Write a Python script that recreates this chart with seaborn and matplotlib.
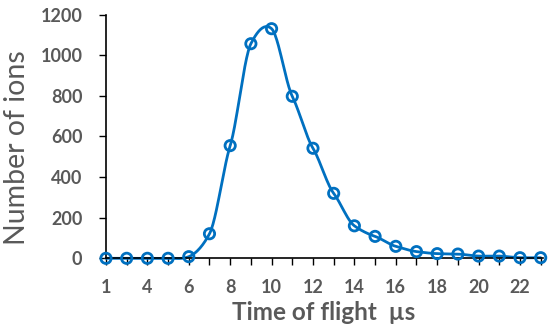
import numpy as np
import pandas as pd
import matplotlib
matplotlib.use("Agg")
import matplotlib.pyplot as plt
import seaborn as sns

# time of flight categories (µs) and ion counts
time_us = [1, 3, 4, 5, 6, 7, 8, 9, 10, 11, 12, 13, 14, 15, 16, 17, 18, 19, 20, 21, 22, 23]
ions = [0, 0, 0, 0, 8, 121, 555, 1057, 1131, 798, 542, 320, 160, 108, 59, 33, 23, 21, 11, 11, 3, 3]
y_ticks = [0, 200, 400, 600, 800, 1000, 1200]

blue = "#0070C0"
grey = "#595959"


def smooth_line(y, n=24, tension=0.7):
    # cardinal spline through the points, like Excel's "smoothed line"
    y = np.asarray(y, dtype=float)
    p = np.r_[y[0], y, y[-1]]
    xs, ys = [], []
    t = np.linspace(0, 1, n, endpoint=False)
    h00 = 2 * t ** 3 - 3 * t ** 2 + 1
    h01 = -2 * t ** 3 + 3 * t ** 2
    h10 = t ** 3 - 2 * t ** 2 + t
    h11 = t ** 3 - t ** 2
    for i in range(len(y) - 1):
        p0, p1, p2, p3 = p[i], p[i + 1], p[i + 2], p[i + 3]
        m1 = tension * (p2 - p0) / 2
        m2 = tension * (p3 - p1) / 2
        ys.append(p1 * h00 + p2 * h01 + m1 * h10 + m2 * h11)
        xs.append(i + t)
    xs.append([len(y) - 1])
    ys.append([y[-1]])
    return np.concatenate(xs), np.concatenate(ys)


df = pd.DataFrame({"pos": np.arange(len(time_us)), "ions": ions})
sx, sy = smooth_line(ions)
curve = pd.DataFrame({"pos": sx, "ions": sy})

sns.set_style("ticks")
plt.rcParams["font.family"] = ["Lato", "DejaVu Sans"]

fig = plt.figure(figsize=(5.5, 3.33), dpi=100)
ax = fig.add_axes([0.1927, 0.2243, 0.7945, 0.7316])

sns.lineplot(data=curve, x="pos", y="ions", color=blue, linewidth=2, ax=ax, clip_on=False)
sns.scatterplot(data=df, x="pos", y="ions", ax=ax, s=55, marker="o",
                facecolor="none", edgecolor=blue, linewidth=2, clip_on=False, zorder=3)

ax.set_xlim(0, 21.11)
ax.set_ylim(0, 1200)
ax.set_xticks(df["pos"])
ax.set_xticklabels([str(t) if i % 2 == 0 else "" for i, t in enumerate(time_us)])
ax.set_yticks(y_ticks)
ax.set_yticklabels([str(v) for v in y_ticks])

for lab in ax.get_xticklabels() + ax.get_yticklabels():
    lab.set_fontweight("bold")
    lab.set_fontsize(13)
    lab.set_color(grey)
ax.tick_params(axis="x", length=5, width=1, pad=10, color="black")
ax.tick_params(axis="y", length=5, width=1, pad=12, color="black")

sns.despine(ax=ax)
for s in ["left", "bottom"]:
    ax.spines[s].set_color("black")
    ax.spines[s].set_linewidth(1.2)

ax.set_xlabel("Time of flight  µs", fontsize=17.5, fontweight="bold", color=grey)
ax.set_ylabel("Number of ions", fontsize=20.5, color=grey)
ax.xaxis.set_label_coords(0.497, -0.175)
ax.yaxis.set_label_coords(-0.175, 0.455)

fig.savefig("out.png", dpi=100)
